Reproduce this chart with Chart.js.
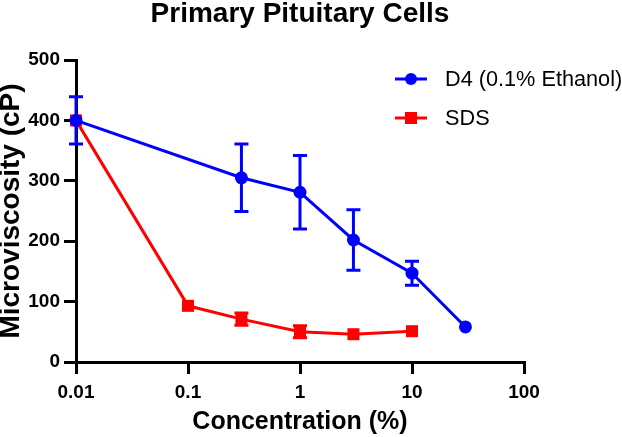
<!DOCTYPE html>
<html>
<head>
<meta charset="utf-8">
<script src="https://cdn.jsdelivr.net/npm/chart.js@4.4.1/dist/chart.umd.min.js"></script>
<style>
  html, body { margin: 0; padding: 0; background: #fff; }
  #wrap { width: 622px; height: 437px; }
</style>
</head>
<body>
<div id="wrap"><canvas id="c" width="622" height="437"></canvas></div>
<script>
// ---- data ----
const titleText = "Primary Pituitary Cells";
const xTitle = "Concentration (%)";
const yTitle = "Microviscosity (cP)";
const xTickValues = [0.01, 0.1, 1, 10, 100];
const xTickLabels = ["0.01", "0.1", "1", "10", "100"];
const yTickValues = [0, 100, 200, 300, 400, 500];

const d4Label = "D4 (0.1% Ethanol)";
const d4Conc = [0.01, 0.3, 1, 3, 10, 30];
const d4Mean = [400, 305, 281, 202, 147, 58];
const d4Err  = [39, 56, 61, 50, 20, 0];

const sdsLabel = "SDS";
const sdsConc = [0.01, 0.1, 0.3, 1, 3, 10];
const sdsMean = [400, 93, 71, 50, 46, 51];
const sdsErr  = [0, 0, 10, 10, 0, 0];

const FONT = "'Liberation Sans', Arial, Helvetica, sans-serif";
const BLUE = "#0000ff";
const RED = "#ff0000";

function pts(xs, ys) { return xs.map((x, i) => ({ x: x, y: ys[i] })); }

const errorBars = {
  id: 'errorBars',
  afterDatasetsDraw(chart) {
    const ctx = chart.ctx;
    const xs = chart.scales.x, ys = chart.scales.y;
    const order = [1, 0];
    order.forEach(di => {
      const ds = chart.data.datasets[di];
      const errs = ds.errors;
      ctx.save();
      ctx.strokeStyle = ds.borderColor;
      ctx.lineWidth = 3;
      ctx.lineCap = 'butt';
      ds.data.forEach((p, i) => {
        const e = errs[i];
        if (!e) return;
        const px = xs.getPixelForValue(p.x);
        const top = ys.getPixelForValue(p.y + e);
        const bot = ys.getPixelForValue(p.y - e);
        const hw = 7;
        ctx.beginPath();
        ctx.moveTo(px, top); ctx.lineTo(px, bot);
        ctx.moveTo(px - hw, top); ctx.lineTo(px + hw, top);
        ctx.moveTo(px - hw, bot); ctx.lineTo(px + hw, bot);
        ctx.stroke();
      });
      ctx.restore();
    });
  }
};

const customLegend = {
  id: 'customLegend',
  afterDraw(chart) {
    const ctx = chart.ctx;
    const rows = [79, 118];
    chart.data.datasets.forEach((ds, i) => {
      const y = rows[i];
      ctx.save();
      ctx.strokeStyle = ds.borderColor;
      ctx.fillStyle = ds.borderColor;
      ctx.lineWidth = 3;
      ctx.beginPath();
      ctx.moveTo(395, y); ctx.lineTo(427, y);
      ctx.stroke();
      if (ds.pointStyle === 'rect') {
        ctx.fillRect(405, y - 6, 12, 12);
      } else {
        ctx.beginPath();
        ctx.arc(411, y, 6, 0, Math.PI * 2);
        ctx.fill();
      }
      ctx.fillStyle = '#000';
      ctx.font = "21.7px " + FONT;
      ctx.textBaseline = 'middle';
      ctx.textAlign = 'left';
      ctx.fillText(ds.label, 445, y + 1);
      ctx.restore();
    });
  }
};

new Chart(document.getElementById('c'), {
  type: 'line',
  data: {
    datasets: [
      {
        label: d4Label,
        data: pts(d4Conc, d4Mean),
        errors: d4Err,
        borderColor: BLUE,
        backgroundColor: BLUE,
        borderWidth: 3,
        pointStyle: 'circle',
        pointRadius: 6.5,
        pointBorderWidth: 0,
        pointHoverRadius: 6.5,
        tension: 0,
        clip: false
      },
      {
        label: sdsLabel,
        data: pts(sdsConc, sdsMean),
        errors: sdsErr,
        borderColor: RED,
        backgroundColor: RED,
        borderWidth: 3,
        pointStyle: 'rect',
        pointRadius: 8.5,
        pointBorderWidth: 0,
        pointHoverRadius: 8.5,
        tension: 0,
        clip: false
      }
    ]
  },
  options: {
    responsive: false,
    animation: false,
    events: [],
    layout: { padding: { top: 0, left: 0, right: 22, bottom: 0 } },
    plugins: {
      legend: { display: false },
      tooltip: { enabled: false },
      title: {
        display: true,
        text: titleText,
        color: '#000',
        font: { family: FONT, size: 28, weight: 'bold', lineHeight: 0.9 },
        padding: { top: 2, bottom: 32.8 }
      }
    },
    scales: {
      x: {
        type: 'logarithmic',
        min: 0.01,
        max: 100,
        afterBuildTicks(scale) { scale.ticks = xTickValues.map(v => ({ value: v })); },
        afterFit(scale) { scale.height = 75; },
        ticks: {
          autoSkip: false,
          maxRotation: 0,
          color: '#000',
          padding: 7,
          font: { family: FONT, size: 19, weight: 'bold', lineHeight: 1.2 },
          callback(value) {
            const idx = xTickValues.findIndex(v => Math.abs(v - value) < 1e-9);
            return idx >= 0 ? xTickLabels[idx] : '';
          }
        },
        grid: { drawOnChartArea: false, drawTicks: true, tickLength: 12, lineWidth: 3, color: '#000' },
        border: { display: true, width: 3, color: '#000' },
        title: {
          display: true,
          text: xTitle,
          color: '#000',
          font: { family: FONT, size: 25, weight: 'bold', lineHeight: 1.2 },
          padding: { top: 0, bottom: 0 }
        }
      },
      y: {
        type: 'linear',
        min: 0,
        max: 500,
        afterBuildTicks(scale) { scale.ticks = yTickValues.map(v => ({ value: v })); },
        afterFit(scale) { scale.width = 76; },
        ticks: {
          color: '#000',
          padding: 4,
          font: { family: FONT, size: 19, weight: 'bold', lineHeight: 1.2 },
          callback(value) { return String(value); }
        },
        grid: { drawOnChartArea: false, drawTicks: true, tickLength: 12, lineWidth: 3, color: '#000' },
        border: { display: true, width: 3, color: '#000' },
        title: {
          display: true,
          text: yTitle,
          color: '#000',
          font: { family: FONT, size: 28, weight: 'bold', lineHeight: 0.8 },
          padding: { top: 0, bottom: 0 }
        }
      },
      yRight: {
        type: 'linear',
        position: 'right',
        min: 0,
        max: 1,
        afterFit(scale) { scale.width = 76; },
        ticks: { display: false },
        grid: { display: false, drawTicks: false },
        border: { display: false },
        title: { display: false }
      }
    }
  },
  plugins: [errorBars, customLegend]
});
</script>
</body>
</html>
